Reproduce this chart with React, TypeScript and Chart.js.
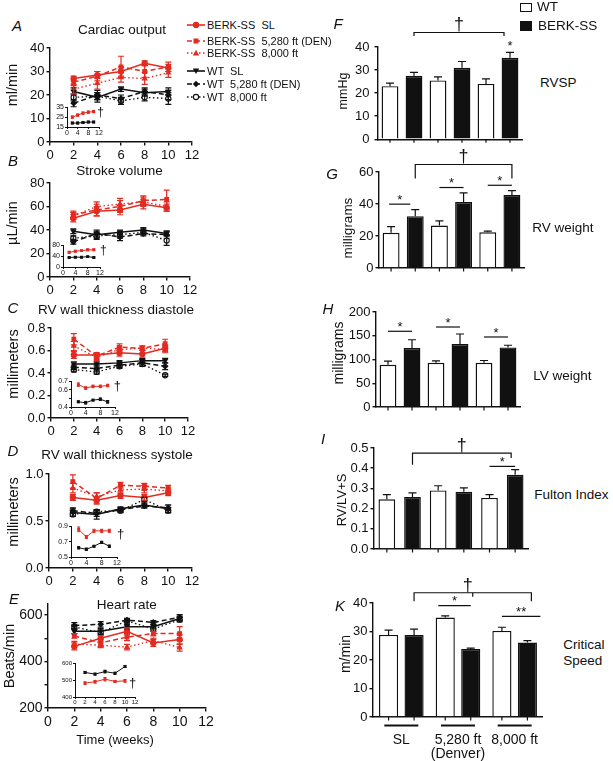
import React, { useEffect, useRef } from 'react';
import { Chart, registerables } from 'chart.js';

Chart.register(...registerables);

const FONT = '"Liberation Sans", Arial, Helvetica, sans-serif';
const RED = '#e32b21';
const INK = '#111111';

// ---------------- time-course data (x = weeks) ----------------
const weeks = [2, 4, 6, 8, 10];
const weekTicks = [0, 2, 4, 6, 8, 10, 12];
const insetWeekTicks = [0, 4, 8, 12];
const insetWeekTicksE = [0, 2, 4, 6, 8, 10, 12];

// A – cardiac output (ml/min)
const coBerkSL = [27, 28.5, 30, 33.5, 31.5];
const coBerkSLErr = [1, 1.5, 2, 1, 1.5];
const coBerkDEN = [25.5, 28, 32, 30, 32];
const coBerkDENErr = [1.5, 2, 4.5, 2.5, 2];
const coBerk8k = [22.5, 25, 27.5, 27, 29.5];
const coBerk8kErr = [2, 2.5, 2, 2.5, 2];
const coWtSL = [21.5, 19, 22.5, 21, 21.5];
const coWtSLErr = [1.5, 2, 1, 1.5, 1.5];
const coWtDEN = [16.5, 20, 18.5, 21.5, 20];
const coWtDENErr = [1.5, 2, 1.5, 1.5, 2];
const coWt8k = [19, 19.5, 17.5, 19, 18.5];
const coWt8kErr = [1.5, 1.5, 1.5, 1.5, 2.5];
const coInsetBerk = [25, 27, 29, 30, 30.5];
const coInsetBerkErr = [1.2, 1.2, 1.2, 1.2, 1.2];
const coInsetWt = [19, 19, 19.5, 20, 20];
const coInsetWtErr = [0.8, 0.8, 0.8, 0.8, 0.8];

// B – stroke volume (µL/min)
const svBerkSL = [50, 56, 57, 62, 59];
const svBerkSLErr = [3, 4, 4, 4, 3];
const svBerkDEN = [53, 57, 60, 65, 66];
const svBerkDENErr = [3, 5, 5, 4, 8];
const svBerk8k = [52, 60, 62, 64, 60];
const svBerk8kErr = [3, 4, 5, 4, 4];
const svWtSL = [39, 36, 38, 40, 37];
const svWtSLErr = [2, 3, 2, 2, 2];
const svWtDEN = [30, 37, 34, 37, 36];
const svWtDENErr = [2, 3, 3, 2, 3];
const svWt8k = [33, 35, 36, 38, 31];
const svWt8kErr = [2, 3, 3, 2, 4];
const svInsetBerk = [54, 58, 60, 63, 63];
const svInsetBerkErr = [3, 3, 3, 3, 3];
const svInsetWt = [35, 36, 36, 38, 35];
const svInsetWtErr = [2, 2, 2, 2, 2];

// C – RV wall thickness diastole (mm)
const tdBerkSL = [0.56, 0.56, 0.58, 0.57, 0.62];
const tdBerkSLErr = [0.03, 0.02, 0.03, 0.03, 0.03];
const tdBerkDEN = [0.7, 0.55, 0.63, 0.62, 0.66];
const tdBerkDENErr = [0.05, 0.03, 0.03, 0.02, 0.04];
const tdBerk8k = [0.64, 0.54, 0.61, 0.62, 0.61];
const tdBerk8kErr = [0.04, 0.03, 0.03, 0.02, 0.03];
const tdWtSL = [0.48, 0.48, 0.49, 0.51, 0.51];
const tdWtSLErr = [0.02, 0.02, 0.02, 0.02, 0.02];
const tdWtDEN = [0.45, 0.44, 0.47, 0.49, 0.46];
const tdWtDENErr = [0.02, 0.03, 0.02, 0.03, 0.03];
const tdWt8k = [0.43, 0.41, 0.46, 0.48, 0.38];
const tdWt8kErr = [0.02, 0.02, 0.02, 0.02, 0.01];
const tdInsetBerk = [0.66, 0.62, 0.64, 0.64, 0.65];
const tdInsetBerkErr = [0.02, 0.015, 0.015, 0.015, 0.015];
const tdInsetWt = [0.46, 0.45, 0.48, 0.49, 0.46];
const tdInsetWtErr = [0.01, 0.015, 0.01, 0.015, 0.015];

// D – RV wall thickness systole (mm)
const tsBerkSL = [0.75, 0.72, 0.77, 0.75, 0.8];
const tsBerkSLErr = [0.03, 0.03, 0.03, 0.03, 0.03];
const tsBerkDEN = [0.92, 0.74, 0.88, 0.87, 0.85];
const tsBerkDENErr = [0.07, 0.06, 0.03, 0.03, 0.03];
const tsBerk8k = [0.85, 0.76, 0.83, 0.84, 0.82];
const tsBerk8kErr = [0.05, 0.04, 0.04, 0.04, 0.03];
const tsWtSL = [0.59, 0.57, 0.63, 0.67, 0.63];
const tsWtSLErr = [0.04, 0.05, 0.02, 0.03, 0.04];
const tsWtDEN = [0.61, 0.58, 0.62, 0.66, 0.64];
const tsWtDENErr = [0.03, 0.03, 0.02, 0.02, 0.03];
const tsWt8k = [0.57, 0.6, 0.61, 0.73, 0.61];
const tsWt8kErr = [0.02, 0.02, 0.02, 0.02, 0.02];
const tsInsetBerk = [0.86, 0.76, 0.84, 0.84, 0.84];
const tsInsetBerkErr = [0.03, 0.02, 0.02, 0.02, 0.02];
const tsInsetWt = [0.62, 0.6, 0.64, 0.69, 0.64];
const tsInsetWtErr = [0.015, 0.015, 0.01, 0.015, 0.015];

// E – heart rate (beats/min)
const hrWtSL = [530, 530, 550, 550, 585];
const hrWtSLErr = [10, 12, 10, 10, 10];
const hrWtDEN = [555, 560, 578, 568, 590];
const hrWtDENErr = [12, 12, 8, 8, 12];
const hrWt8k = [548, 525, 575, 540, 580];
const hrWt8kErr = [10, 10, 10, 10, 10];
const hrBerkSL = [465, 500, 530, 480, 495];
const hrBerkSLErr = [15, 12, 15, 15, 20];
const hrBerkDEN = [510, 480, 505, 520, 520];
const hrBerkDENErr = [10, 15, 15, 10, 30];
const hrBerk8k = [475, 470, 462, 490, 460];
const hrBerk8kErr = [12, 10, 12, 10, 15];
const hrInsetBerk = [482, 490, 505, 492, 495];
const hrInsetBerkErr = [8, 8, 10, 6, 8];
const hrInsetWt = [545, 535, 550, 540, 580];
const hrInsetWtErr = [6, 6, 8, 6, 6];

// ---------------- bar data (groups: SL, 5,280 ft, 8,000 ft) ----------------
const groups = ['SL', '5,280 ft (Denver)', '8,000 ft'];
const kGroupLabels = [['SL'], ['5,280 ft', '(Denver)'], ['8,000 ft']];

const rvspWT = [23, 25.5, 24];
const rvspWTErr = [1.3, 1.5, 2.2];
const rvspBERK = [27.5, 31, 35.3];
const rvspBERKErr = [1.5, 2.7, 2.4];

const rvwWT = [22, 26.5, 22.3];
const rvwWTErr = [3.8, 2.9, 0.7];
const rvwBERK = [32.4, 41.2, 45.7];
const rvwBERKErr = [4.1, 5.8, 2.7];

const lvwWT = [88.8, 93, 93];
const lvwWTErr = [7.7, 4, 4.9];
const lvwBERK = [124, 132.6, 125.4];
const lvwBERKErr = [17.6, 21.1, 4.6];

const fultonWT = [0.246, 0.29, 0.253];
const fultonWTErr = [0.023, 0.023, 0.016];
const fultonBERK = [0.258, 0.283, 0.367];
const fultonBERKErr = [0.02, 0.02, 0.026];

const csWT = [28.8, 34.9, 30.2];
const csWTErr = [1.7, 0.6, 1.3];
const csBERK = [28.8, 23.9, 26.1];
const csBERKErr = [2, 0.3, 0.7];

// ---------------- styles ----------------
const SERIES: any = {
  berkSL: { color: RED, fill: RED, dash: [], point: 'circle' },
  berkDEN: { color: RED, fill: RED, dash: [5, 3], point: 'rect' },
  berk8k: { color: RED, fill: RED, dash: [1.5, 2.5], point: 'triangle' },
  wtSL: { color: INK, fill: INK, dash: [], point: 'triangle', rot: 180 },
  wtDEN: { color: INK, fill: INK, dash: [5, 3], point: 'rectRot' },
  wt8k: { color: INK, fill: '#ffffff', dash: [1.5, 2.5], point: 'circle' },
  insetBerk: { color: RED, fill: RED, dash: [], point: 'rect' },
  insetWt: { color: INK, fill: INK, dash: [], point: 'rect' },
};

type Pad = { left: number; top: number; right: number; bottom: number };
type Box = { l: number; t: number; r: number; b: number };

const errorBarPlugin = {
  id: 'errorBars',
  afterDatasetsDraw(chart: any, _args: any, opts: any) {
    const ctx = chart.ctx;
    const ys = chart.scales.y;
    chart.data.datasets.forEach((ds: any, di: number) => {
      if (!ds.err) return;
      const meta = chart.getDatasetMeta(di);
      ctx.save();
      ctx.strokeStyle = opts.color || ds.borderColor;
      ctx.lineWidth = opts.width || 1.2;
      ctx.setLineDash([]);
      meta.data.forEach((el: any, i: number) => {
        const raw = ds.data[i];
        const v = typeof raw === 'number' ? raw : raw.y;
        const e = ds.err[i];
        if (e == null) return;
        const x = el.x;
        const c = opts.cap || 3;
        const yTop = ys.getPixelForValue(v + e);
        const yBot = opts.upOnly ? ys.getPixelForValue(v) : ys.getPixelForValue(v - e);
        ctx.beginPath();
        ctx.moveTo(x, yTop);
        ctx.lineTo(x, yBot);
        ctx.moveTo(x - c, yTop);
        ctx.lineTo(x + c, yTop);
        if (!opts.upOnly) {
          ctx.moveTo(x - c, yBot);
          ctx.lineTo(x + c, yBot);
        }
        ctx.stroke();
      });
      ctx.restore();
    });
  },
};

const sigPlugin = {
  id: 'sig',
  afterDraw(chart: any, _a: any, o: any) {
    const ctx = chart.ctx;
    const ys = chart.scales.y;
    const xs = chart.scales.x;
    const area = chart.chartArea;
    const barX = (k: number) => chart.getDatasetMeta(k % 2).data[Math.floor(k / 2)].x;
    const star = (txt: string, x: number, yc: number, size: number) => {
      ctx.font = `${size}px ${FONT}`;
      ctx.textBaseline = 'alphabetic';
      ctx.fillText(txt, x, yc + 0.58 * size);
    };
    ctx.save();
    ctx.strokeStyle = INK;
    ctx.fillStyle = INK;
    ctx.lineWidth = 1.2;
    ctx.textAlign = 'center';
    const n = chart.data.labels.length * 2;
    ctx.beginPath();
    for (let k = 0; k < n; k++) {
      const x = barX(k);
      ctx.moveTo(x, area.bottom);
      ctx.lineTo(x, area.bottom + 3.5);
    }
    ctx.stroke();
    (o.brackets || []).forEach((b: any) => {
      const x0 = barX(b.from) + (b.extL || 0);
      const x1 = barX(b.to) + (b.extR || 0);
      const y = ys.getPixelForValue(b.y);
      ctx.beginPath();
      ctx.moveTo(x0, y + b.legL);
      ctx.lineTo(x0, y);
      ctx.lineTo(x1, y);
      ctx.lineTo(x1, y + b.legR);
      if (b.midTick) {
        const xm = (x0 + x1) / 2;
        ctx.moveTo(xm, y);
        ctx.lineTo(xm, y + b.midTick);
      }
      ctx.stroke();
      ctx.font = `${o.daggerSize || 18}px ${FONT}`;
      ctx.textBaseline = 'alphabetic';
      ctx.fillText(b.label, (x0 + x1) / 2 + (b.labelDx || 0), y - 2);
    });
    (o.lines || []).forEach((l: any) => {
      const x0 = barX(l.from) + (l.extL || 0);
      const x1 = barX(l.to) + (l.extR || 0);
      const y = ys.getPixelForValue(l.y);
      ctx.beginPath();
      ctx.moveTo(x0, y);
      ctx.lineTo(x1, y);
      ctx.stroke();
      star(l.label, (x0 + x1) / 2, y - 8, o.starSize || 13);
    });
    (o.marks || []).forEach((m: any) => {
      star(m.label, barX(m.bar), ys.getPixelForValue(m.y), o.starSize || 13);
    });
    if (o.groupLines) {
      ctx.lineWidth = 1.8;
      ctx.beginPath();
      xs.ticks.forEach((_t: any, i: number) => {
        const cx = xs.getPixelForTick(i);
        ctx.moveTo(cx - 17, area.bottom + 8.5);
        ctx.lineTo(cx + 17, area.bottom + 8.5);
      });
      ctx.stroke();
    }
    ctx.restore();
  },
};

function axis(o: any) {
  return {
    type: 'linear',
    min: o.min,
    max: o.max,
    afterBuildTicks: (s: any) => {
      s.ticks = o.ticks.map((v: number) => ({ value: v }));
    },
    afterFit: o.fit,
    ticks: {
      display: true,
      autoSkip: false,
      maxRotation: 0,
      padding: o.pad,
      color: INK,
      font: { family: FONT, size: o.font },
      callback: (v: number) =>
        o.labels && !o.labels.some((t: number) => Math.abs(t - v) < 1e-9) ? '' : Number(v).toFixed(o.dec || 0),
    },
    grid: { display: true, drawOnChartArea: false, drawTicks: true, tickLength: o.tickLen, color: INK, lineWidth: o.width },
    border: { display: true, color: INK, width: o.width },
  };
}

function lineDs(style: any, values: number[], errs: number[], size: number, lw: number) {
  const dotted = style.dash.length > 0 && style.dash[0] < 2;
  return {
    data: weeks.map((w, i) => ({ x: w, y: values[i] })),
    err: errs,
    borderColor: style.color,
    backgroundColor: style.fill,
    borderWidth: dotted ? lw * 0.9 : lw,
    borderDash: style.dash,
    pointStyle: style.point,
    pointRotation: style.rot || 0,
    pointRadius: size,
    pointBackgroundColor: style.fill,
    pointBorderColor: style.color,
    pointBorderWidth: 1.1,
    tension: 0,
    fill: false,
    clip: false,
  };
}

const MAIN_ST = { font: 13, tickLen: 3.5, yPad: 2, xPad: 2, width: 1.4, cap: 3, errW: 1.2, size: 2.6, lw: 1.5 };
const INSET_ST = { font: 7, tickLen: 2, yPad: 1, xPad: 0, width: 1, cap: 1.5, errW: 1, size: 1.3, lw: 1 };

function lineConfig(series: any[], xTicks: number[], y: any, st: any, pad: Pad) {
  return {
    type: 'line',
    data: { datasets: series.map((s) => lineDs(s[0], s[1], s[2], st.size, st.lw)) },
    options: {
      animation: false,
      responsive: false,
      maintainAspectRatio: false,
      devicePixelRatio: 1,
      events: [],
      layout: { padding: { left: 0, right: pad.right, top: pad.top, bottom: 0 } },
      plugins: { legend: { display: false }, tooltip: { enabled: false }, errorBars: { cap: st.cap, width: st.errW } },
      scales: {
        x: axis({ min: 0, max: 12, ticks: xTicks, font: st.font, tickLen: st.tickLen, pad: st.xPad, width: st.width, fit: (s: any) => { s.height = pad.bottom; } }),
        y: axis({ ...y, font: st.font, tickLen: st.tickLen, pad: st.yPad, width: st.width, fit: (s: any) => { s.width = pad.left; } }),
      },
    },
    plugins: [errorBarPlugin],
  };
}

function barConfig(o: any, pad: Pad) {
  const common = { borderColor: INK, borderWidth: 1.4, borderSkipped: 'start', categoryPercentage: o.catPct, barPercentage: o.barPct };
  return {
    type: 'bar',
    data: {
      labels: o.labels,
      datasets: [
        { label: 'WT', data: o.wt, err: o.wtErr, backgroundColor: '#ffffff', ...common },
        { label: 'BERK-SS', data: o.berk, err: o.berkErr, backgroundColor: INK, ...common },
      ],
    },
    options: {
      animation: false,
      responsive: false,
      maintainAspectRatio: false,
      devicePixelRatio: 1,
      events: [],
      layout: { padding: { left: 0, right: pad.right, top: pad.top, bottom: 0 } },
      plugins: {
        legend: { display: false },
        tooltip: { enabled: false },
        errorBars: { cap: 4, width: 1.2, upOnly: true, color: INK },
        sig: o.sig,
      },
      scales: {
        x: {
          type: 'category',
          offset: true,
          afterFit: (s: any) => { s.height = pad.bottom; },
          grid: { display: false, drawTicks: false },
          border: { display: true, color: INK, width: 1.4 },
          ticks: {
            display: !!o.showLabels,
            padding: 16,
            color: INK,
            autoSkip: false,
            maxRotation: 0,
            font: { family: FONT, size: 14, lineHeight: 1 },
          },
        },
        y: axis({ ...o.y, font: 13, tickLen: 3.5, pad: o.yPad || 2, width: 1.4, fit: (s: any) => { s.width = pad.left; } }),
      },
    },
    plugins: [errorBarPlugin, sigPlugin],
  };
}

function ChartCanvas({ box, pad, make }: { box: Box; pad: Pad; make: (p: Pad) => any }) {
  const ref = useRef<HTMLCanvasElement | null>(null);
  const l = Math.round(box.l);
  const t = Math.round(box.t);
  const r = Math.round(box.r);
  const b = Math.round(box.b);
  const w = r - l + pad.left + pad.right;
  const h = b - t + pad.top + pad.bottom;
  useEffect(() => {
    const chart = new Chart(ref.current as HTMLCanvasElement, make(pad) as any);
    return () => chart.destroy();
  }, []);
  return (
    <canvas
      ref={ref}
      width={w}
      height={h}
      style={{ position: 'absolute', left: l - pad.left, top: t - pad.top, width: w, height: h }}
    />
  );
}

function T({ t, x, y, s, rot, it, al }: any) {
  const tr = rot ? 'translate(-50%,-50%) rotate(-90deg)' : al === 'l' ? 'translate(0,-50%)' : 'translate(-50%,-50%)';
  return (
    <div
      style={{
        position: 'absolute',
        left: x,
        top: y,
        transform: tr,
        fontSize: s,
        fontFamily: FONT,
        fontStyle: it ? 'italic' : 'normal',
        whiteSpace: 'pre',
        lineHeight: 1,
        color: INK,
      }}
    >
      {t}
    </div>
  );
}

function LegendMark({ style }: any) {
  const c = style.color;
  const dash = style.dash.length ? style.dash.join(',') : undefined;
  let mark: any = null;
  if (style.point === 'circle') mark = <circle cx={10} cy={5} r={2.6} fill={style.fill} stroke={c} strokeWidth={1.1} />;
  else if (style.point === 'rect') mark = <rect x={7.5} y={2.5} width={5} height={5} fill={c} />;
  else if (style.point === 'rectRot') mark = <polygon points="10,1.8 13.2,5 10,8.2 6.8,5" fill={c} />;
  else if (style.point === 'triangle' && style.rot) mark = <polygon points="6.8,2.5 13.2,2.5 10,8" fill={c} />;
  else mark = <polygon points="10,1.8 13.2,7.6 6.8,7.6" fill={c} />;
  return (
    <svg width={20} height={10} style={{ display: 'block' }}>
      <line x1={1} y1={5} x2={19} y2={5} stroke={c} strokeWidth={1.6} strokeDasharray={dash} />
      {mark}
    </svg>
  );
}

const legendRows = [
  { style: SERIES.berkSL, label: 'BERK-SS  SL', y: 25 },
  { style: SERIES.berkDEN, label: 'BERK-SS  5,280 ft (DEN)', y: 40.5 },
  { style: SERIES.berk8k, label: 'BERK-SS  8,000 ft', y: 52.5 },
  { style: SERIES.wtSL, label: 'WT  SL', y: 71 },
  { style: SERIES.wtDEN, label: 'WT  5,280 ft (DEN)', y: 84.3 },
  { style: SERIES.wt8k, label: 'WT  8,000 ft', y: 97.3 },
];

const MAIN_PAD: Pad = { left: 34, top: 10, right: 14, bottom: 22 };
const INSET_PAD: Pad = { left: 16, top: 5, right: 8, bottom: 10 };

const S = SERIES;

const charts: { box: Box; pad: Pad; make: (p: Pad) => any }[] = [
  // A
  {
    box: { l: 50, t: 48, r: 192, b: 142 },
    pad: MAIN_PAD,
    make: (p) =>
      lineConfig(
        [
          [S.wtSL, coWtSL, coWtSLErr], [S.wtDEN, coWtDEN, coWtDENErr], [S.wt8k, coWt8k, coWt8kErr],
          [S.berkSL, coBerkSL, coBerkSLErr], [S.berkDEN, coBerkDEN, coBerkDENErr], [S.berk8k, coBerk8k, coBerk8kErr],
        ],
        weekTicks, { min: 0, max: 40, ticks: [0, 10, 20, 30, 40] }, MAIN_ST, p),
  },
  // B
  {
    box: { l: 50, t: 183, r: 190, b: 277 },
    pad: MAIN_PAD,
    make: (p) =>
      lineConfig(
        [
          [S.wtSL, svWtSL, svWtSLErr], [S.wtDEN, svWtDEN, svWtDENErr], [S.wt8k, svWt8k, svWt8kErr],
          [S.berkSL, svBerkSL, svBerkSLErr], [S.berkDEN, svBerkDEN, svBerkDENErr], [S.berk8k, svBerk8k, svBerk8kErr],
        ],
        weekTicks, { min: 0, max: 80, ticks: [0, 20, 40, 60, 80] }, MAIN_ST, p),
  },
  // C
  {
    box: { l: 51, t: 328, r: 188, b: 418 },
    pad: MAIN_PAD,
    make: (p) =>
      lineConfig(
        [
          [S.wtSL, tdWtSL, tdWtSLErr], [S.wtDEN, tdWtDEN, tdWtDENErr], [S.wt8k, tdWt8k, tdWt8kErr],
          [S.berkSL, tdBerkSL, tdBerkSLErr], [S.berkDEN, tdBerkDEN, tdBerkDENErr], [S.berk8k, tdBerk8k, tdBerk8kErr],
        ],
        weekTicks, { min: 0, max: 0.8, ticks: [0, 0.2, 0.4, 0.6, 0.8], dec: 1 }, MAIN_ST, p),
  },
  // D
  {
    box: { l: 49, t: 474, r: 192, b: 568 },
    pad: MAIN_PAD,
    make: (p) =>
      lineConfig(
        [
          [S.wtSL, tsWtSL, tsWtSLErr], [S.wtDEN, tsWtDEN, tsWtDENErr], [S.wt8k, tsWt8k, tsWt8kErr],
          [S.berkSL, tsBerkSL, tsBerkSLErr], [S.berkDEN, tsBerkDEN, tsBerkDENErr], [S.berk8k, tsBerk8k, tsBerk8kErr],
        ],
        weekTicks, { min: 0, max: 1, ticks: [0, 0.5, 1], dec: 1 }, MAIN_ST, p),
  },
  // E
  {
    box: { l: 48, t: 603, r: 206, b: 708 },
    pad: { left: 34, top: 10, right: 14, bottom: 24 },
    make: (p) =>
      lineConfig(
        [
          [S.wtSL, hrWtSL, hrWtSLErr], [S.wtDEN, hrWtDEN, hrWtDENErr], [S.wt8k, hrWt8k, hrWt8kErr],
          [S.berkSL, hrBerkSL, hrBerkSLErr], [S.berkDEN, hrBerkDEN, hrBerkDENErr], [S.berk8k, hrBerk8k, hrBerk8kErr],
        ],
        weekTicks, { min: 200, max: 650, ticks: [200, 300, 400, 500, 600], labels: [200, 400, 600] }, { ...MAIN_ST, font: 14 }, p),
  },
  // insets
  {
    box: { l: 67, t: 107, r: 99, b: 127 },
    pad: INSET_PAD,
    make: (p) =>
      lineConfig([[S.insetWt, coInsetWt, coInsetWtErr], [S.insetBerk, coInsetBerk, coInsetBerkErr]],
        insetWeekTicks, { min: 15, max: 35, ticks: [15, 25, 35] }, INSET_ST, p),
  },
  {
    box: { l: 63, t: 245, r: 100, b: 267 },
    pad: INSET_PAD,
    make: (p) =>
      lineConfig([[S.insetWt, svInsetWt, svInsetWtErr], [S.insetBerk, svInsetBerk, svInsetBerkErr]],
        insetWeekTicks, { min: 0, max: 80, ticks: [0, 40, 80] }, INSET_ST, p),
  },
  {
    box: { l: 71, t: 381, r: 115, b: 407 },
    pad: INSET_PAD,
    make: (p) =>
      lineConfig([[S.insetWt, tdInsetWt, tdInsetWtErr], [S.insetBerk, tdInsetBerk, tdInsetBerkErr]],
        insetWeekTicks, { min: 0.4, max: 0.7, ticks: [0.4, 0.5, 0.6, 0.7], labels: [0.4, 0.6, 0.7], dec: 1 }, INSET_ST, p),
  },
  {
    box: { l: 71, t: 526, r: 117, b: 557 },
    pad: INSET_PAD,
    make: (p) =>
      lineConfig([[S.insetWt, tsInsetWt, tsInsetWtErr], [S.insetBerk, tsInsetBerk, tsInsetBerkErr]],
        insetWeekTicks, { min: 0.5, max: 0.9, ticks: [0.5, 0.7, 0.9], dec: 1 }, INSET_ST, p),
  },
  {
    box: { l: 75, t: 663, r: 135, b: 697 },
    pad: INSET_PAD,
    make: (p) =>
      lineConfig([[S.insetWt, hrInsetWt, hrInsetWtErr], [S.insetBerk, hrInsetBerk, hrInsetBerkErr]],
        insetWeekTicksE, { min: 400, max: 600, ticks: [400, 500, 600] }, { ...INSET_ST, font: 6 }, p),
  },
  // F
  {
    box: { l: 378, t: 47, r: 522, b: 142 },
    pad: { left: 36, top: 44, right: 6, bottom: 10 },
    make: (p) =>
      barConfig({
        labels: groups, wt: rvspWT, wtErr: rvspWTErr, berk: rvspBERK, berkErr: rvspBERKErr,
        catPct: 1, barPct: 0.7, yPad: 5,
        y: { min: 0, max: 40, ticks: [0, 10, 20, 30, 40] },
        sig: {
          brackets: [{ from: 1, to: 5, y: 46.3, legL: 3.5, legR: 3.5, extR: -6, label: '†' }],
          marks: [{ bar: 5, y: 42, label: '*' }],
        },
      }, p),
  },
  // G
  {
    box: { l: 379, t: 172, r: 524, b: 268 },
    pad: { left: 36, top: 28, right: 6, bottom: 10 },
    make: (p) =>
      barConfig({
        labels: groups, wt: rvwWT, wtErr: rvwWTErr, berk: rvwBERK, berkErr: rvwBERKErr,
        catPct: 1, barPct: 0.7,
        y: { min: 0, max: 60, ticks: [0, 20, 40, 60] },
        sig: {
          brackets: [{ from: 1, to: 5, y: 64.7, legL: 14, legR: 14, label: '†' }],
          lines: [
            { from: 0, to: 1, y: 39.9, extL: -2, extR: -5, label: '*' },
            { from: 2, to: 3, y: 50.3, label: '*' },
            { from: 4, to: 5, y: 51.7, label: '*' },
          ],
        },
      }, p),
  },
  // H
  {
    box: { l: 376, t: 312, r: 520, b: 407 },
    pad: { left: 36, top: 10, right: 6, bottom: 10 },
    make: (p) =>
      barConfig({
        labels: groups, wt: lvwWT, wtErr: lvwWTErr, berk: lvwBERK, berkErr: lvwBERKErr,
        catPct: 1, barPct: 0.7,
        y: { min: 0, max: 200, ticks: [0, 50, 100, 150, 200] },
        sig: {
          lines: [
            { from: 0, to: 1, y: 159.4, label: '*' },
            { from: 2, to: 3, y: 168.4, label: '*' },
            { from: 4, to: 5, y: 147.4, label: '*' },
          ],
        },
      }, p),
  },
  // I
  {
    box: { l: 374, t: 448, r: 528, b: 549 },
    pad: { left: 36, top: 18, right: 6, bottom: 10 },
    make: (p) =>
      barConfig({
        labels: groups, wt: fultonWT, wtErr: fultonWTErr, berk: fultonBERK, berkErr: fultonBERKErr,
        catPct: 1, barPct: 0.65,
        y: { min: 0, max: 0.5, ticks: [0, 0.1, 0.2, 0.3, 0.4, 0.5], dec: 1 },
        sig: {
          brackets: [{ from: 1, to: 5, y: 0.475, legL: 11.7, legR: 5, extR: -4, label: '†' }],
          lines: [{ from: 4, to: 5, y: 0.409, label: '*' }],
        },
      }, p),
  },
  // K
  {
    box: { l: 373, t: 603, r: 549, b: 717 },
    pad: { left: 36, top: 30, right: 6, bottom: 44 },
    make: (p) =>
      barConfig({
        labels: kGroupLabels, showLabels: true, wt: csWT, wtErr: csWTErr, berk: csBERK, berkErr: csBERKErr,
        catPct: 0.9, barPct: 0.75,
        y: { min: 0, max: 40, ticks: [0, 10, 20, 30, 40] },
        sig: {
          groupLines: true,
          brackets: [{ from: 1, to: 5, y: 43.6, legL: 8.4, legR: 8.4, midTick: 4, extR: 4, labelDx: -5, label: '†' }],
          lines: [
            { from: 2, to: 3, y: 39.1, extL: -7, label: '*' },
            { from: 4, to: 5, y: 35.3, extR: 13, label: '**' },
          ],
        },
      }, p),
  },
];

const texts = [
  // panel letters
  { t: 'A', x: 17, y: 25, s: 15, it: true },
  { t: 'B', x: 13, y: 160, s: 15, it: true },
  { t: 'C', x: 13, y: 307, s: 15, it: true },
  { t: 'D', x: 13, y: 450, s: 15, it: true },
  { t: 'E', x: 14, y: 598, s: 15, it: true },
  { t: 'F', x: 338, y: 23, s: 15, it: true },
  { t: 'G', x: 332, y: 173, s: 15, it: true },
  { t: 'H', x: 328, y: 308, s: 15, it: true },
  { t: 'I', x: 323, y: 438, s: 15, it: true },
  { t: 'K', x: 340, y: 605, s: 15, it: true },
  // titles
  { t: 'Cardiac output', x: 122, y: 30, s: 13.5 },
  { t: 'Stroke volume', x: 119.5, y: 171, s: 13.5 },
  { t: 'RV wall thickness diastole', x: 116, y: 309.5, s: 13.5 },
  { t: 'RV wall thickness systole', x: 117, y: 455, s: 13.5 },
  { t: 'Heart rate', x: 126.7, y: 604.5, s: 13.5 },
  { t: 'Time (weeks)', x: 115, y: 738.5, s: 13 },
  // left y labels
  { t: 'ml/min', x: 12, y: 85, s: 14.5, rot: true },
  { t: 'µL/min', x: 12, y: 222.5, s: 14.5, rot: true },
  { t: 'millimeters', x: 12.5, y: 364, s: 14.5, rot: true },
  { t: 'millimeters', x: 13, y: 512, s: 14.5, rot: true },
  { t: 'Beats/min', x: 9, y: 656, s: 14.5, rot: true },
  // inset daggers
  { t: '†', x: 100.7, y: 111.7, s: 12 },
  { t: '†', x: 103.3, y: 249.5, s: 12 },
  { t: '†', x: 117.3, y: 385, s: 13 },
  { t: '†', x: 120.7, y: 532.7, s: 13 },
  { t: '†', x: 132.7, y: 682.3, s: 13 },
  // right y labels
  { t: 'mmHg', x: 343.3, y: 91, s: 12.5, rot: true },
  { t: 'milligrams', x: 348.3, y: 227.5, s: 13.5, rot: true },
  { t: 'milligrams', x: 338.3, y: 352.5, s: 14, rot: true },
  { t: 'RV/LV+S', x: 340.7, y: 500, s: 13, rot: true },
  { t: 'm/min', x: 345, y: 654, s: 14, rot: true },
  // right side names
  { t: 'RVSP', x: 540, y: 83, s: 13.5, al: 'l' },
  { t: 'RV weight', x: 532.3, y: 227.7, s: 13.5, al: 'l' },
  { t: 'LV weight', x: 533.3, y: 376, s: 13.5, al: 'l' },
  { t: 'Fulton Index', x: 534.3, y: 495, s: 13.5, al: 'l' },
  { t: 'Critical', x: 563.3, y: 645, s: 13.5, al: 'l' },
  { t: 'Speed', x: 563.3, y: 661, s: 13.5, al: 'l' },
  // bar legend
  { t: 'WT', x: 537, y: 7, s: 13.5, al: 'l' },
  { t: 'BERK-SS', x: 538, y: 25.7, s: 13.5, al: 'l' },
];

export default function App() {
  return (
    <div style={{ position: 'absolute', left: 0, top: 0, width: 613, height: 761, background: '#ffffff', overflow: 'hidden' }}>
      {charts.map((c, i) => (
        <ChartCanvas key={i} box={c.box} pad={c.pad} make={c.make} />
      ))}
      {legendRows.map((r, i) => (
        <React.Fragment key={'lg' + i}>
          <div style={{ position: 'absolute', left: 186, top: r.y - 5 }}>
            <LegendMark style={r.style} />
          </div>
          <T t={r.label} x={207} y={r.y} s={11} al="l" />
        </React.Fragment>
      ))}
      <div style={{ position: 'absolute', left: 520, top: 2.5, width: 11.5, height: 9.5, border: '1.3px solid #111', boxSizing: 'border-box' }} />
      <div style={{ position: 'absolute', left: 520, top: 20.5, width: 11.5, height: 10, background: INK }} />
      {texts.map((x, i) => (
        <T key={'t' + i} {...x} />
      ))}
    </div>
  );
}
